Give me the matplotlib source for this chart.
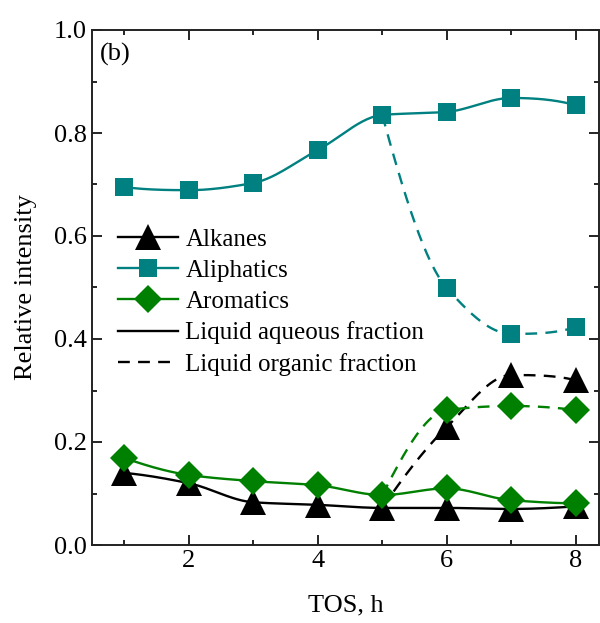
import numpy as np
import matplotlib
matplotlib.use('Agg')
import matplotlib.pyplot as plt
from matplotlib.lines import Line2D
from matplotlib.ticker import MultipleLocator, FormatStrFormatter

plt.rcParams['font.family'] = 'Liberation Serif'

# TOS, h
tos = [1, 2, 3, 4, 5, 6, 7, 8]
tos_org = [5, 6, 7, 8]

# liquid aqueous fraction
alkanes_aq = [0.140, 0.120, 0.083, 0.078, 0.072, 0.072, 0.070, 0.075]
aliphatics_aq = [0.695, 0.689, 0.703, 0.767, 0.835, 0.841, 0.868, 0.854]
aromatics_aq = [0.169, 0.136, 0.124, 0.116, 0.097, 0.110, 0.087, 0.081]

# liquid organic fraction (starts at 5 h)
alkanes_org = [0.072, 0.229, 0.330, 0.320]
aliphatics_org = [0.835, 0.499, 0.410, 0.423]
aromatics_org = [0.097, 0.262, 0.270, 0.262]

teal = '#008080'
green = '#008000'


def smooth_curve(x, y, n=200):
    # monotone cubic (pchip style) through the points, only for drawing
    x = np.asarray(x, float)
    y = np.asarray(y, float)
    h = np.diff(x)
    delta = np.diff(y) / h
    m = np.zeros(len(x))
    for i in range(1, len(x) - 1):
        if delta[i - 1] * delta[i] > 0:
            w1 = 2 * h[i] + h[i - 1]
            w2 = h[i] + 2 * h[i - 1]
            m[i] = (w1 + w2) / (w1 / delta[i - 1] + w2 / delta[i])
    for j, (a, b, da, db) in enumerate([(h[0], h[1], delta[0], delta[1]),
                                        (h[-1], h[-2], delta[-1], delta[-2])]):
        d = ((2 * a + b) * da - a * db) / (a + b)
        if np.sign(d) != np.sign(da):
            d = 0
        elif np.sign(da) != np.sign(db) and abs(d) > abs(3 * da):
            d = 3 * da
        m[0 if j == 0 else -1] = d
    xs = np.linspace(x[0], x[-1], n)
    idx = np.clip(np.searchsorted(x, xs) - 1, 0, len(x) - 2)
    t = (xs - x[idx]) / h[idx]
    h00 = 2 * t ** 3 - 3 * t ** 2 + 1
    h10 = t ** 3 - 2 * t ** 2 + t
    h01 = -2 * t ** 3 + 3 * t ** 2
    h11 = t ** 3 - t ** 2
    ys = h00 * y[idx] + h10 * h[idx] * m[idx] + h01 * y[idx + 1] + h11 * h[idx] * m[idx + 1]
    return xs, ys


fig = plt.figure(figsize=(6, 6.23), dpi=100)
ax = fig.add_axes([92 / 600, 78 / 623, 507 / 600, 515 / 623])

dash = (0, (5, 3.5))
series = [
    (alkanes_aq, alkanes_org, 'k', '^', 19),
    (aliphatics_aq, aliphatics_org, teal, 's', 13),
    (aromatics_aq, aromatics_org, green, 'D', 14),
]
for aq, org, col, mk, ms in series:
    xs, ys = smooth_curve(tos, aq)
    ax.plot(xs, ys, color=col, lw=1.7, zorder=2)
    xs, ys = smooth_curve(tos_org, org)
    ax.plot(xs, ys, color=col, lw=1.7, linestyle=dash, zorder=2)
    ax.plot(tos, aq, linestyle='none', marker=mk, ms=ms, color=col, mew=0, zorder=3)
    ax.plot(tos_org[1:], org[1:], linestyle='none', marker=mk, ms=ms, color=col, mew=0, zorder=3)

ax.set_xlim(0.5, 8.36)
ax.set_ylim(0, 1.0)
ax.xaxis.set_major_locator(MultipleLocator(2))
ax.xaxis.set_minor_locator(MultipleLocator(1))
ax.yaxis.set_major_locator(MultipleLocator(0.2))
ax.yaxis.set_minor_locator(MultipleLocator(0.1))
ax.yaxis.set_major_formatter(FormatStrFormatter('%.1f'))
ax.tick_params(which='both', direction='in', top=True, right=True, labelsize=19, width=1.2)
ax.tick_params(which='major', length=7)
ax.tick_params(which='minor', length=3.5)
for sp in ax.spines.values():
    sp.set_linewidth(1.4)
    sp.set_color('#222222')

ax.set_xlabel('TOS, h', fontsize=19, labelpad=16)
ax.set_ylabel('Relative intensity', fontsize=19, labelpad=12)
ax.text(0.015, 0.975, '(b)', transform=ax.transAxes, fontsize=19, va='top', ha='left')

handles = [
    Line2D([], [], color='k', lw=1.7, marker='^', ms=19, mew=0),
    Line2D([], [], color=teal, lw=1.7, marker='s', ms=13, mew=0),
    Line2D([], [], color=green, lw=1.7, marker='D', ms=14, mew=0),
    Line2D([], [], color='k', lw=1.7),
    Line2D([], [], color='k', lw=1.7, linestyle=dash),
]
labels = ['Alkanes', 'Aliphatics', 'Aromatics', 'Liquid aqueous fraction', 'Liquid organic fraction']
ax.legend(handles, labels, loc='upper left', bbox_to_anchor=(0.052, 0.615), frameon=False,
          fontsize=18, handlelength=2.4, handletextpad=0.28, labelspacing=0.34,
          borderpad=0, borderaxespad=0)

fig.savefig('out.png', dpi=100)
